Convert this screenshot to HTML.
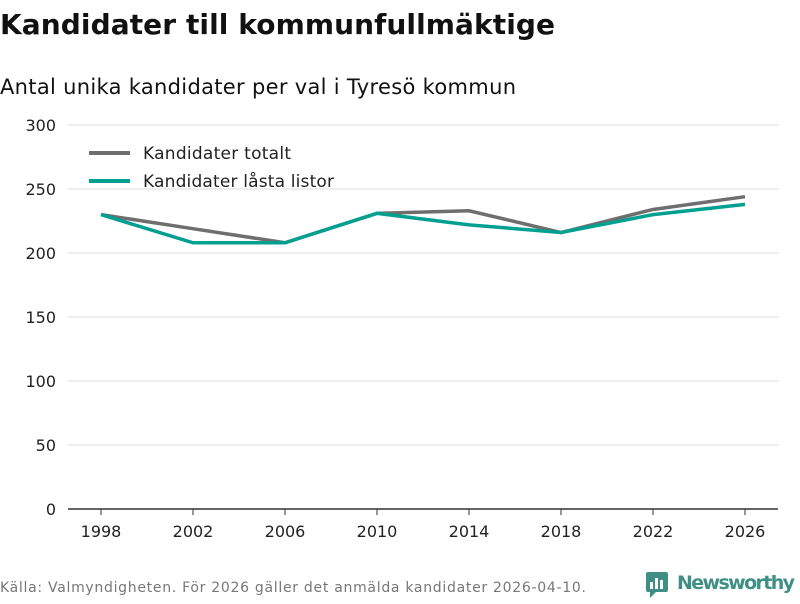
<!DOCTYPE html>
<html><head><meta charset="utf-8"><style>
body{margin:0;background:#fff;font-family:"DejaVu Sans","Liberation Sans",sans-serif;}
</style></head><body>
<svg width="800" height="600" xmlns="http://www.w3.org/2000/svg">
<text x="0" y="34" font-size="28" font-weight="bold" fill="#111" textLength="555">Kandidater till kommunfullmäktige</text>
<text x="0" y="94" font-size="21" fill="#111" textLength="516">Antal unika kandidater per val i Tyresö kommun</text>
<g id="grid"></g>
<g id="xaxis"></g>
<g id="series"></g>
<g>
<line x1="89" y1="153" x2="130" y2="153" stroke="#6e6e6e" stroke-width="4"/>
<text x="143" y="159" font-size="17" fill="#222" textLength="148">Kandidater totalt</text>
<line x1="89" y1="181" x2="130" y2="181" stroke="#00a091" stroke-width="4"/>
<text x="143" y="187" font-size="17" fill="#222" textLength="191">Kandidater låsta listor</text>
</g>
<text x="0" y="592" font-size="14" fill="#777" textLength="586">Källa: Valmyndigheten. För 2026 gäller det anmälda kandidater 2026-04-10.</text>
<g>
<rect x="646" y="572" width="22" height="20" rx="2" fill="#3f8f86"/>
<path d="M650 592 L650 598 L656 592Z" fill="#3f8f86"/>
<rect x="650" y="582" width="3" height="7" fill="#fff"/><rect x="655" y="578" width="3" height="11" fill="#fff"/><rect x="660" y="580" width="3" height="9" fill="#fff"/>
<text x="677" y="589" font-size="19" font-weight="bold" fill="#3f8f86" textLength="118">Newsworthy</text>
</g>
</svg>
<script>
const years=[1998,2002,2006,2010,2014,2018,2022,2026];
const totalt=[230,219,208,231,233,216,234,244];
const lasta=[230,208,208,231,222,216,230,238];
const yTicks=[0,50,100,150,200,250,300];
const NS="http://www.w3.org/2000/svg";
const x=i=>101+i*92;
const y=v=>509-v*1.28;
const grid=document.getElementById('grid');
yTicks.forEach(t=>{
 const l=document.createElementNS(NS,'line');
 l.setAttribute('x1',68);l.setAttribute('x2',778);l.setAttribute('y1',y(t));l.setAttribute('y2',y(t));
 l.setAttribute('stroke',t===0?'#333':'#ddd');l.setAttribute('stroke-width',t===0?1.5:1);
 
 
 grid.appendChild(l);
 const tx=document.createElementNS(NS,'text');
 tx.setAttribute('x',56);tx.setAttribute('y',y(t)+6);tx.setAttribute('text-anchor','end');tx.setAttribute('font-size','16');tx.setAttribute('fill','#222');
 tx.textContent=t;
 
 
 grid.appendChild(tx);
});
const xa=document.getElementById('xaxis');
years.forEach((yr,i)=>{
 const l=document.createElementNS(NS,'line');
 l.setAttribute('x1',x(i));l.setAttribute('x2',x(i));l.setAttribute('y1',509);l.setAttribute('y2',515);l.setAttribute('stroke','#333');
 
 
 xa.appendChild(l);
 const tx=document.createElementNS(NS,'text');
 tx.setAttribute('x',x(i));tx.setAttribute('y',537);tx.setAttribute('text-anchor','middle');tx.setAttribute('font-size','16');tx.setAttribute('fill','#222');
 tx.textContent=yr;
 
 
 xa.appendChild(tx);
});
const sg=document.getElementById('series');
[[totalt,'#6e6e6e','line-totalt'],[lasta,'#00a091','line-lasta']].forEach(([d,c,n])=>{
 const p=document.createElementNS(NS,'polyline');
 p.setAttribute('points',d.map((v,i)=>x(i)+','+y(v)).join(' '));
 p.setAttribute('fill','none');p.setAttribute('stroke',c);p.setAttribute('stroke-width',3.5);
 
 
 sg.appendChild(p);
});
</script>
</body></html>
